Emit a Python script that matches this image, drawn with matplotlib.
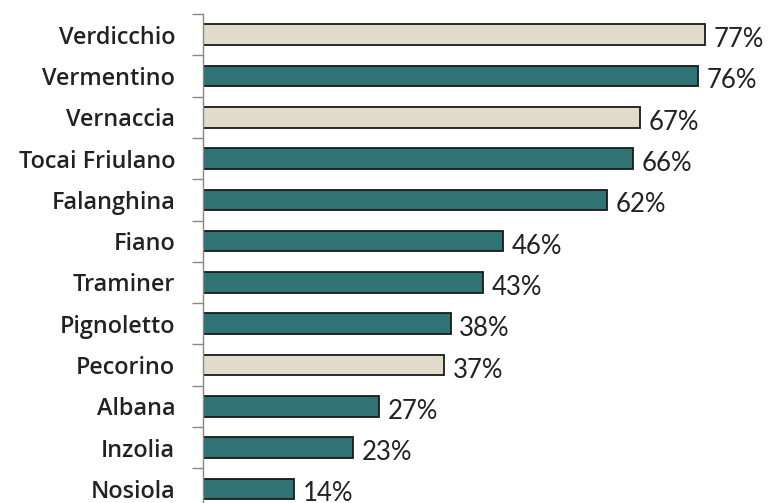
import numpy as np
import matplotlib
matplotlib.use("Agg")
import matplotlib.pyplot as plt

# Dati
vitigni = ['Verdicchio', 'Vermentino', 'Vernaccia', 'Tocai Friulano', 'Falanghina',
           'Fiano', 'Traminer', 'Pignoletto', 'Pecorino', 'Albana', 'Inzolia', 'Nosiola']
valori = [77, 76, 67, 66, 62, 46, 43, 38, 37, 27, 23, 14]
evidenziati = ['Verdicchio', 'Vernaccia', 'Pecorino']

col_teal = '#2f7374'
col_beige = '#e0dcc9'

fig = plt.figure(figsize=(7.72, 5.03), dpi=100)
ax = fig.add_axes([203 / 772, 0, (772 - 203) / 772, (503 - 14) / 503])

y = np.arange(len(vitigni))
colori = [col_beige if v in evidenziati else col_teal for v in vitigni]
ax.barh(y, valori, height=0.5, color=colori, edgecolor='#1a1a1a', linewidth=1.3)

for yi, v in zip(y, valori):
    ax.text(v + 1.3, yi + 0.12, f'{v}%', va='center', ha='left',
            fontsize=18.5, family='Lato', color='#222222')

ax.set_xlim(0, 87.3)
ax.set_ylim(11.34, -0.5)

ax.set_yticks(y)
ax.set_yticklabels(vitigni, fontsize=16.8, family='Open Sans', fontweight='semibold', color='#222222')
ax.tick_params(axis='y', which='major', length=0, pad=20)
ax.set_yticks(np.arange(-0.5, 11.5, 1), minor=True)
ax.tick_params(axis='y', which='minor', length=8, width=1, color='#888888')
ax.set_xticks([])

for s in ['top', 'right', 'bottom']:
    ax.spines[s].set_visible(False)
ax.spines['left'].set_color('#888888')
ax.spines['left'].set_linewidth(1)

fig.savefig('out.png', dpi=100)
